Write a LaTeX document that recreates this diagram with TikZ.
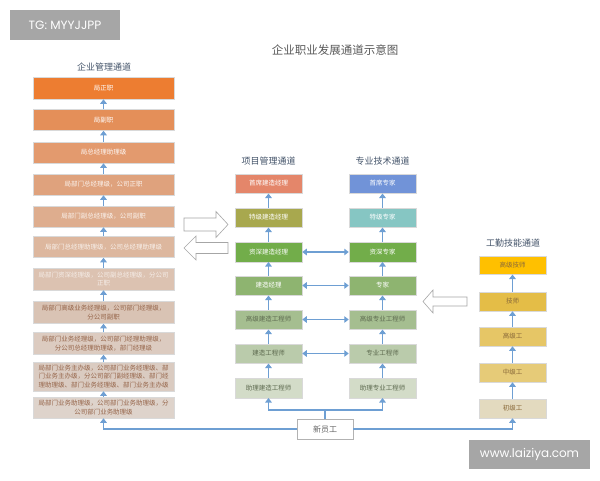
\documentclass[tikz,border=0pt]{standalone}
\usepackage{fontspec}
\setmainfont{Noto Sans CJK SC}
\newfontfamily\tgfont{Poppins}
\usetikzlibrary{arrows.meta}
\definecolor{arrowc}{HTML}{6E9FD3}
\definecolor{grayc}{HTML}{A6A6A6}
\definecolor{titlec}{HTML}{595959}
\definecolor{headc}{HTML}{44546A}
\definecolor{lA}{HTML}{ED7D31}
\definecolor{lB}{HTML}{E48F59}
\definecolor{lC}{HTML}{E39A6E}
\definecolor{lD}{HTML}{DFA27D}
\definecolor{lE}{HTML}{DEAD8E}
\definecolor{lF}{HTML}{DDB79E}
\definecolor{lG}{HTML}{DCC2B1}
\definecolor{lH}{HTML}{D9C3B4}
\definecolor{lI}{HTML}{DCCBC0}
\definecolor{lJ}{HTML}{DACBC1}
\definecolor{lK}{HTML}{DED3CB}
\definecolor{ltxt}{HTML}{96654A}
\definecolor{mA}{HTML}{E4866A}
\definecolor{mB}{HTML}{A8A84E}
\definecolor{mC}{HTML}{72AD4A}
\definecolor{mD}{HTML}{8EB470}
\definecolor{mE}{HTML}{A5BE90}
\definecolor{mF}{HTML}{BACBAB}
\definecolor{mG}{HTML}{D3DCC8}
\definecolor{rA}{HTML}{7193D8}
\definecolor{rB}{HTML}{86C6C3}
\definecolor{gtxt}{HTML}{5E6B50}
\definecolor{wA}{HTML}{FFC000}
\definecolor{wB}{HTML}{E4BD47}
\definecolor{wC}{HTML}{E6C666}
\definecolor{wD}{HTML}{E6CB78}
\definecolor{wE}{HTML}{E3DABF}
\definecolor{wtxt}{HTML}{8A6A3A}
\tikzset{
  cbox/.style={draw=white!85!black, line width=0.5pt, inner sep=1pt, align=center,
    font=\fontsize{6.5}{8.5}\selectfont},
  lbox/.style={cbox, minimum width=141pt, text width=137pt},
  mbox/.style={cbox, minimum width=67pt, minimum height=19.5pt},
  arr/.style={draw=arrowc, line width=1.8pt, -{Triangle[width=6.5pt,length=4.5pt]}},
  barr/.style={draw=arrowc, line width=1.8pt, {Triangle[width=6.5pt,length=4.5pt]}-{Triangle[width=6.5pt,length=4.5pt]}},
  plain/.style={draw=arrowc, line width=1.8pt},
  hollow/.style={draw=black!35, fill=white, line width=0.6pt, line join=miter},
  head/.style={text=headc, font=\fontsize{9}{10}\selectfont},
  tag/.style={fill=grayc, text=white, inner sep=0pt}
}
\begin{document}
\begin{tikzpicture}[x=1pt,y=-1pt]
\useasboundingbox (0,0) rectangle (600,480);
\fill[white] (0,0) rectangle (600,480);

% tags
\node[tag, minimum width=110pt, minimum height=30pt, font=\tgfont\fontsize{12}{14}\selectfont] (tg) at (65,25) {TG: MYYJJPP};
\node[tag, minimum width=121pt, minimum height=29pt, font=\tgfont\fontsize{12}{14}\selectfont] (wm) at (529.5,454.5) {www.laiziya.com};

% titles
\node[text=titlec, font=\fontsize{11.5}{13}\selectfont] (title) at (335,50) {企业职业发展通道示意图};
\node[head] (h1) at (104,67) {企业管理通道};
\node[head] (h2) at (268.5,161) {项目管理通道};
\node[head] (h3) at (382.5,161) {专业技术通道};
\node[head] (h4) at (513,243) {工勤技能通道};

% left column
\node[lbox, fill=lA, text=white, minimum height=22pt] (L1) at (103.5,88) {局正职};
\node[lbox, fill=lB, text=white, minimum height=21pt] (L2) at (103.5,120) {局副职};
\node[lbox, fill=lC, text=white!92!lC, minimum height=21pt] (L3) at (103.5,152.5) {局总经理助理级};
\node[lbox, fill=lD, text=white!88!lD, minimum height=21pt] (L4) at (103.5,184.5) {局部门总经理级，公司正职};
\node[lbox, fill=lE, text=white!85!lE, minimum height=21pt] (L5) at (103.5,216.5) {局部门副总经理级，公司副职};
\node[lbox, fill=lF, text=white!80!lF, minimum height=21pt] (L6) at (103.5,247) {局部门总经理助理级，公司总经理助理级};
\node[lbox, fill=lG, text=white!70!lG, minimum height=22pt] (L7) at (103.5,279) {局部门资深经理级，公司副总经理级，分公司\\正职};
\node[lbox, fill=lH, text=ltxt, minimum height=22pt] (L8) at (103.5,312.5) {局部门高级业务经理级，公司部门经理级，\\分公司副职};
\node[lbox, fill=lI, text=ltxt, minimum height=22pt] (L9) at (103.5,343.5) {局部门业务经理级，公司部门经理助理级，\\分公司总经理助理级，部门经理级};
\node[lbox, fill=lJ, text=ltxt, minimum height=29pt] (L10) at (103.5,376.5) {局部门业务主办级，公司部门业务经理级、部\\门业务主办级，分公司部门副经理级、部门经\\理助理级、部门业务经理级、部门业务主办级};
\node[lbox, fill=lK, text=ltxt, minimum height=21pt] (L11) at (103.5,407.5) {局部门业务助理级，公司部门业务助理级，分\\公司部门业务助理级};
\foreach \a/\b in {L2/L1,L3/L2,L4/L3,L5/L4,L6/L5,L7/L6,L8/L7,L9/L8,L10/L9,L11/L10}
  \draw[arr] (\a.north) -- (\b.south);

% middle column
\node[mbox, fill=mA, text=white] (M1) at (268.5,183.5) {首席建造经理};
\node[mbox, fill=mB, text=white] (M2) at (268.5,217.5) {特级建造经理};
\node[mbox, fill=mC, text=white] (M3) at (268.5,252) {资深建造经理};
\node[mbox, fill=mD, text=white] (M4) at (268.5,285.5) {建造经理};
\node[mbox, fill=mE, text=gtxt] (M5) at (268.5,319.5) {高级建造工程师};
\node[mbox, fill=mF, text=gtxt] (M6) at (268.5,353.5) {建造工程师};
\node[mbox, fill=mG, text=gtxt, draw=black!15] (M7) at (268.5,388) {助理建造工程师};
% right column
\node[mbox, fill=rA, text=white] (R1) at (382.5,183.5) {首席专家};
\node[mbox, fill=rB, text=white] (R2) at (382.5,217.5) {特级专家};
\node[mbox, fill=mC, text=white] (R3) at (382.5,252) {资深专家};
\node[mbox, fill=mD, text=white] (R4) at (382.5,285.5) {专家};
\node[mbox, fill=mE, text=gtxt] (R5) at (382.5,319.5) {高级专业工程师};
\node[mbox, fill=mF, text=gtxt] (R6) at (382.5,353.5) {专业工程师};
\node[mbox, fill=mG, text=gtxt, draw=black!15] (R7) at (382.5,388) {助理专业工程师};
\foreach \a/\b in {2/1,3/2,4/3,5/4,6/5,7/6} {
  \draw[arr] (M\a.north) -- (M\b.south);
  \draw[arr] (R\a.north) -- (R\b.south);
}
\foreach \i in {3,4,5,6}
  \draw[barr] (M\i.east) -- (R\i.west);

% far right column
\node[mbox, fill=wA, text=wtxt, minimum height=18.5pt] (W1) at (512.5,265) {高级技师};
\node[mbox, fill=wB, text=wtxt, minimum height=19pt] (W2) at (512.5,301.5) {技师};
\node[mbox, fill=wC, text=wtxt, minimum height=19pt] (W3) at (512.5,336.5) {高级工};
\node[mbox, fill=wD, text=wtxt, minimum height=19pt] (W4) at (512.5,372.5) {中级工};
\node[mbox, fill=wE, text=wtxt, minimum height=19pt] (W5) at (512.5,408.5) {初级工};
\foreach \a/\b in {2/1,3/2,4/3,5/4}
  \draw[arr] (W\a.north) -- (W\b.south);

% new employee
\node[cbox, draw=black!30, fill=white, text=black!60, minimum width=56pt, minimum height=20pt,
  font=\fontsize{8}{9}\selectfont] (N) at (325,429) {新员工};
\coordinate (J) at (325,410);
\draw[plain] (N.north) -- (J);
\draw[arr] (J) -| (M7.south);
\draw[arr] (J) -| (R7.south);
\draw[arr] (N.west) -| (L11.south);
\draw[arr] (N.east) -| (W5.south);

% hollow arrows
\draw[hollow] (184,218) -- (216,218) -- (216,211.5) -- (228,224.5) -- (216,237.5) -- (216,231) -- (184,231) -- cycle;
\draw[hollow] (228,242.5) -- (196,242.5) -- (196,236) -- (184,248) -- (196,260) -- (196,253.5) -- (228,253.5) -- cycle;
\draw[hollow] (467,297) -- (433,297) -- (433,290) -- (423,301.5) -- (433,313) -- (433,306) -- (467,306) -- cycle;
\end{tikzpicture}
\end{document}
